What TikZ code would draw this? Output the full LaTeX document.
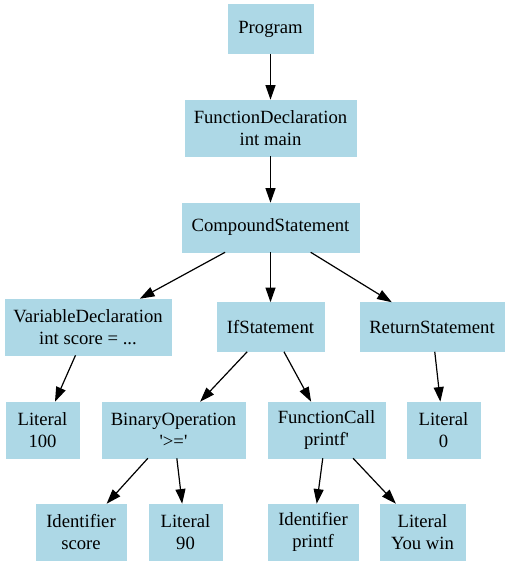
\documentclass[tikz,border=0pt]{standalone}
\usepackage{fontspec}
\setmainfont{Liberation Serif}[Ligatures=TeXOff]
\usetikzlibrary{arrows.meta}
\definecolor{lightblue}{HTML}{ADD8E6}
\tikzset{
  ast/.style={fill=lightblue, draw=lightblue, line width=0.4pt, inner sep=0pt, align=center,
    font={\fontsize{14}{16.5}\selectfont}, minimum height=36.75pt},
  two/.style={minimum height=42pt},
  wd/.style={minimum width=#1*0.75pt},
  edge/.style={-{Triangle[length=11pt,width=7.5pt]}, line width=0.9pt, black},
}
\begin{document}
\begin{tikzpicture}[x=0.75pt, y=-0.75pt]
\useasboundingbox (0,0) rectangle (509,565);
\node[ast, wd=85] (prog) at (270.5,29) {Program};
\node[ast, two, wd=171] (fdecl) at (270.5,128) {FunctionDeclaration\\int main};
\node[ast, wd=177] (comp) at (270.5,227.5) {CompoundStatement};
\node[ast, two, wd=166] (vdecl) at (88,327) {VariableDeclaration\\int score = ...};
\node[ast, wd=107] (ifs) at (270.5,327) {IfStatement};
\node[ast, wd=144] (ret) at (432,327) {ReturnStatement};
\node[ast, two, wd=73] (lit100) at (42.5,430) {Literal\\100};
\node[ast, two, wd=143] (binop) at (173.5,430) {BinaryOperation\\'>='};
\node[ast, two, wd=117] (fcall) at (326.5,430) {FunctionCall\\printf'};
\node[ast, two, wd=73] (lit0) at (443.5,430) {Literal\\0};
\node[ast, two, wd=90] (idscore) at (81,532) {Identifier\\score};
\node[ast, two, wd=73] (lit90) at (185.5,532) {Literal\\90};
\node[ast, two, wd=90] (idprintf) at (313,532) {Identifier\\printf};
\node[ast, two, wd=85] (litwin) at (422.5,532) {Literal\\You win};
\draw[edge] (prog) -- (fdecl);
\draw[edge] (fdecl) -- (comp);
\draw[edge] (comp) -- (vdecl);
\draw[edge] (comp) -- (ifs);
\draw[edge] (comp) -- (ret);
\draw[edge] (vdecl) -- (lit100);
\draw[edge] (ifs) -- (binop);
\draw[edge] (ifs) -- (fcall);
\draw[edge] (ret) -- (lit0);
\draw[edge] (binop) -- (idscore);
\draw[edge] (binop) -- (lit90);
\draw[edge] (fcall) -- (idprintf);
\draw[edge] (fcall) -- (litwin);
\end{tikzpicture}
\end{document}
